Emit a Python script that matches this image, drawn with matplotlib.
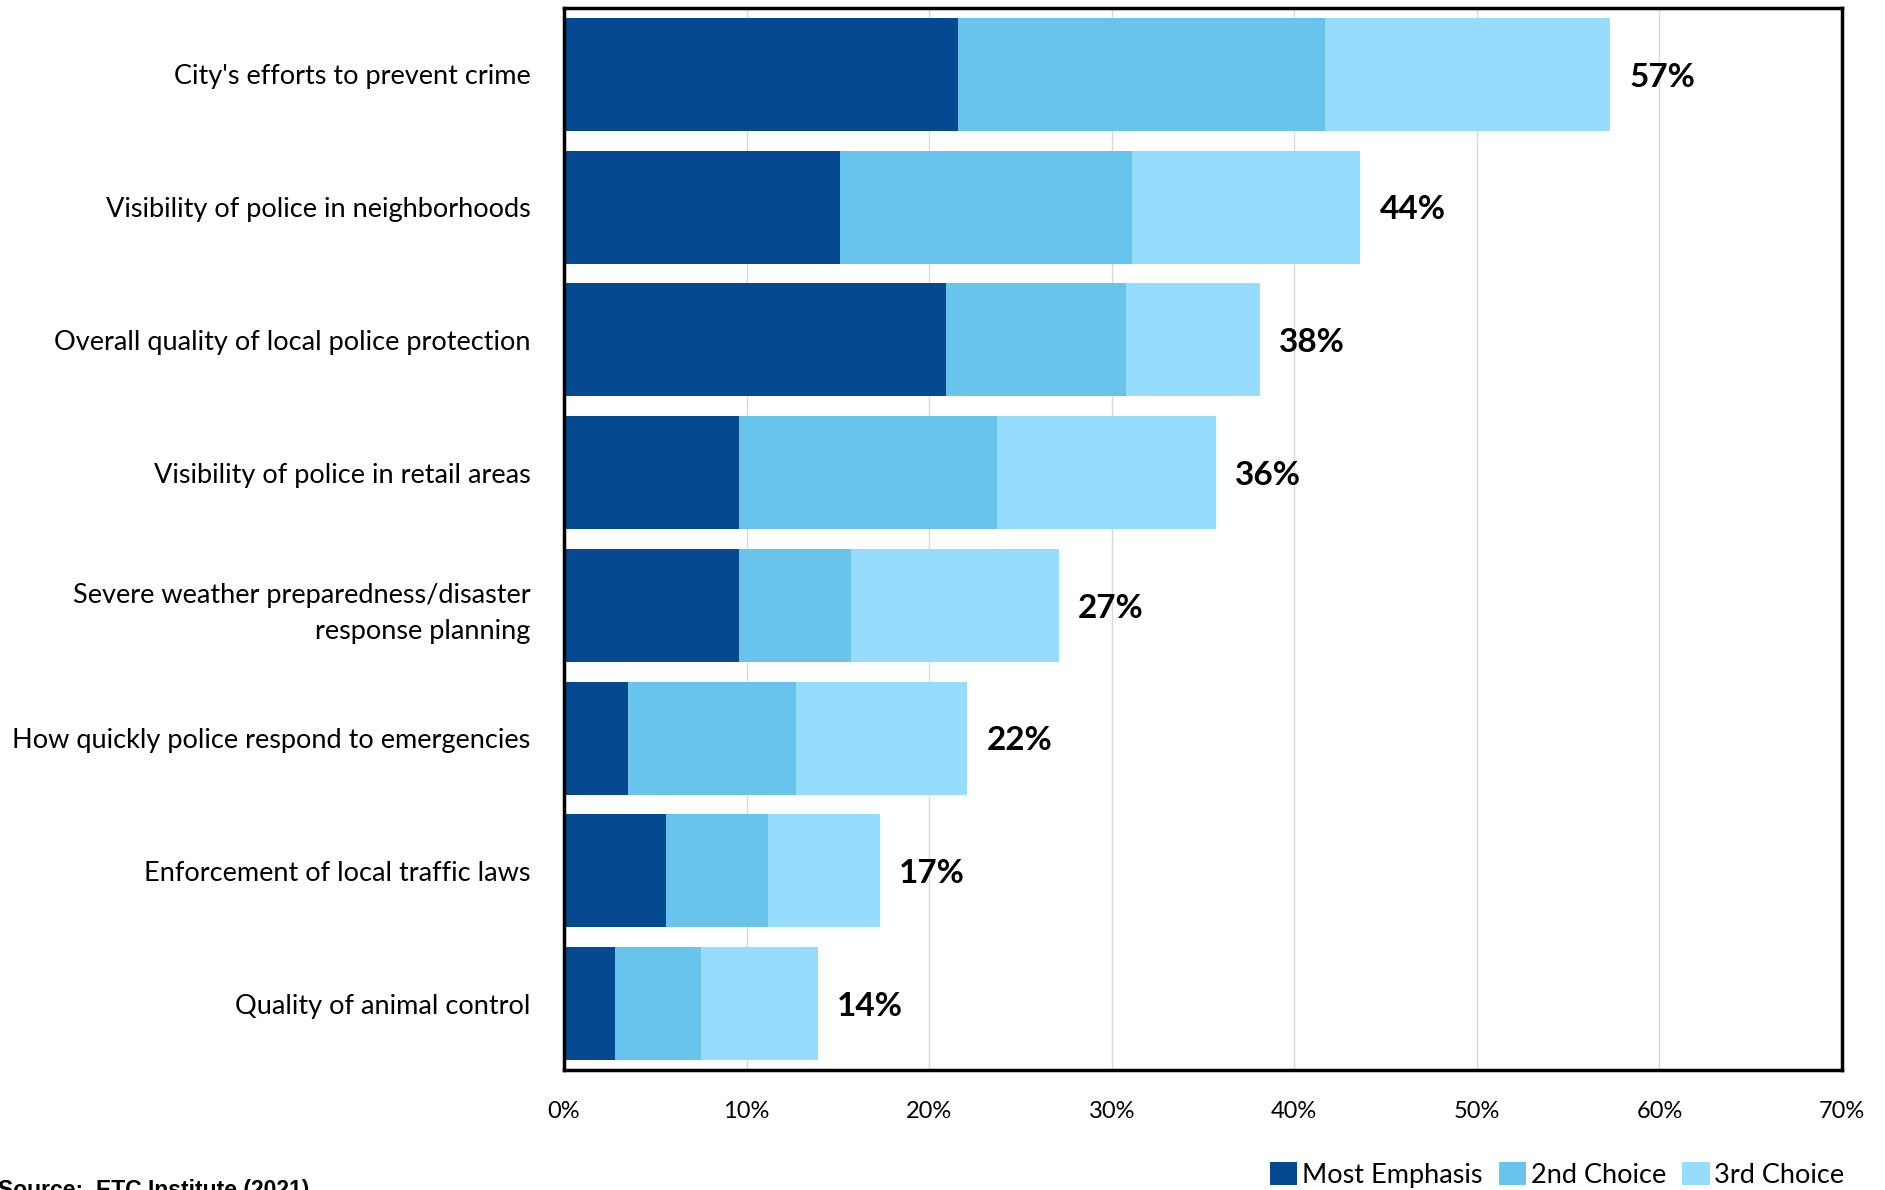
import matplotlib
matplotlib.use("Agg")
import matplotlib.pyplot as plt
import numpy as np

categories = [
    "City's efforts to prevent crime",
    "Visibility of police in neighborhoods",
    "Overall quality of local police protection",
    "Visibility of police in retail areas",
    "Severe weather preparedness/disaster\nresponse planning",
    "How quickly police respond to emergencies",
    "Enforcement of local traffic laws",
    "Quality of animal control",
]
most_emphasis = [21.6, 15.1, 20.9, 9.6, 9.6, 3.5, 5.6, 2.8]
second_choice = [20.1, 16.0, 9.9, 14.1, 6.1, 9.2, 5.6, 4.7]
third_choice = [15.6, 12.5, 7.3, 12.0, 11.4, 9.4, 6.1, 6.4]
series_names = ["Most Emphasis", "2nd Choice", "3rd Choice"]
colors = ["#054A91", "#69C4EC", "#95DCFE"]
xticks = [0, 10, 20, 30, 40, 50, 60, 70]

plt.rcParams["font.family"] = ["Lato", "DejaVu Sans"]

fig = plt.figure(figsize=(18.85, 11.9), dpi=100)
ax = fig.add_axes([0.2992, 0.1008, 0.678, 0.8925])

y = np.arange(len(categories))
left = np.zeros(len(categories))
for vals, name, c in zip([most_emphasis, second_choice, third_choice], series_names, colors):
    ax.barh(y, vals, left=left, height=0.85, color=c, label=name, zorder=2)
    left = left + np.array(vals)

# totals to the right of each bar
for yi, tot in zip(y, left):
    ax.annotate(f"{tot:.0f}%", xy=(tot, yi), xytext=(14, -2), textcoords="offset points",
                ha="left", va="center", fontsize=24, fontweight="bold", color="black")

ax.set_ylim(len(categories) - 0.5, -0.5)
ax.set_xlim(0, 70)
ax.set_yticks(y)
ax.set_yticklabels(categories, fontsize=19.5, linespacing=1.55)
ax.set_xticks(xticks)
ax.set_xticklabels([f"{t}%" for t in xticks], fontsize=17)
ax.tick_params(axis="y", length=0, pad=24)
ax.tick_params(axis="x", length=0, pad=22)
ax.grid(axis="x", color="#D9D9D9", linewidth=1, zorder=0)
for s in ax.spines.values():
    s.set_linewidth(2.5)
    s.set_color("black")

ax.legend(loc="upper right", bbox_to_anchor=(1.002, -0.087), ncol=3, frameon=False,
          fontsize=19.5, handlelength=1.0, handleheight=0.9, handletextpad=0.18,
          columnspacing=0.6, borderpad=0, borderaxespad=0)

fig.text(-0.001, 0.009, "Source:  ETC Institute (2021)", ha="left", va="top",
         fontsize=16.5, fontweight="bold", family=["Liberation Sans Narrow", "Liberation Sans"])

fig.savefig("out.png", dpi=100)
